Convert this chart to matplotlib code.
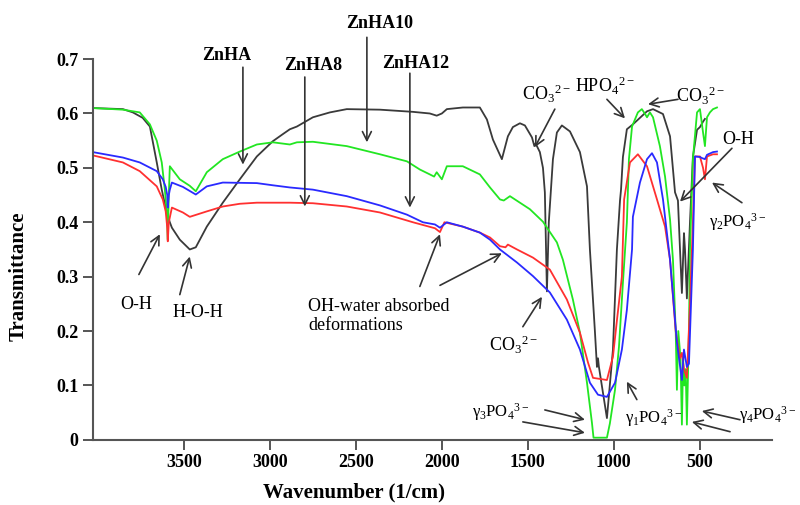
import matplotlib
matplotlib.use("Agg")
import matplotlib.pyplot as plt

plt.rcParams['font.family'] = ['Liberation Serif', 'DejaVu Serif']
plt.rcParams['mathtext.default'] = 'regular'

# spectra (wavenumber in 1/cm, transmittance)
wn_black = [4030, 3855, 3797, 3740, 3698, 3658, 3629, 3600, 3582, 3570, 3524, 3466, 3431, 3367, 3274, 3175,
            3076, 2983, 2925, 2884, 2843, 2750, 2651, 2553, 2360, 2168, 2070, 2030, 2000, 1971, 1878, 1779,
            1738, 1703, 1651, 1616, 1587, 1546, 1517, 1476, 1462, 1455, 1430, 1412, 1401, 1389, 1378, 1354,
            1331, 1302, 1255, 1197, 1156, 1139, 1110, 1098, 1092, 1087, 1040, 1005, 982, 964, 958, 947, 924,
            889, 807, 772, 714, 673, 644, 627, 615, 604, 592, 586, 575, 557, 540, 516, 499, 481, 470]
t_black = [0.610, 0.608, 0.602, 0.592, 0.576, 0.510, 0.460, 0.418, 0.400, 0.390, 0.368, 0.350, 0.354, 0.392,
           0.436, 0.479, 0.521, 0.549, 0.562, 0.571, 0.576, 0.593, 0.602, 0.608, 0.607, 0.603, 0.600, 0.596,
           0.600, 0.608, 0.611, 0.611, 0.589, 0.552, 0.516, 0.558, 0.575, 0.582, 0.578, 0.556, 0.540, 0.545,
           0.529, 0.500, 0.455, 0.273, 0.400, 0.516, 0.565, 0.578, 0.567, 0.529, 0.466, 0.350, 0.200, 0.134,
           0.150, 0.135, 0.040, 0.166, 0.350, 0.440, 0.460, 0.520, 0.571, 0.580, 0.604, 0.608, 0.599, 0.558,
           0.455, 0.440, 0.350, 0.270, 0.380, 0.350, 0.260, 0.400, 0.520, 0.570, 0.575, 0.585, 0.590]

wn_green = [4030, 3855, 3757, 3698, 3658, 3629, 3611, 3600, 3594, 3588, 3582, 3570, 3524, 3466, 3431, 3367,
            3274, 3175, 3076, 2983, 2884, 2843, 2750, 2553, 2360, 2203, 2128, 2070, 2045, 2030, 2000, 1971,
            1878, 1779, 1720, 1662, 1640, 1604, 1488, 1412, 1331, 1296, 1238, 1197, 1156, 1127, 1118, 1040,
            1023, 993, 970, 947, 924, 912, 894, 860, 837, 820, 807, 790, 772, 732, 702, 673, 656, 640, 633,
            625, 612, 604, 597, 590, 582, 575, 563, 557, 540, 516, 499, 481, 470, 458, 441, 423, 400]
t_green = [0.610, 0.607, 0.602, 0.580, 0.550, 0.510, 0.460, 0.420, 0.368, 0.450, 0.503, 0.498, 0.479, 0.467,
           0.457, 0.492, 0.516, 0.530, 0.543, 0.547, 0.543, 0.547, 0.548, 0.540, 0.525, 0.512, 0.497, 0.488,
           0.484, 0.492, 0.479, 0.503, 0.503, 0.488, 0.464, 0.442, 0.440, 0.448, 0.424, 0.401, 0.363, 0.331,
           0.258, 0.197, 0.105, 0.031, 0.004, 0.004, 0.030, 0.092, 0.171, 0.289, 0.400, 0.516, 0.576, 0.602,
           0.608, 0.600, 0.593, 0.602, 0.593, 0.540, 0.484, 0.405, 0.331, 0.200, 0.092, 0.200, 0.150, 0.028,
           0.150, 0.100, 0.130, 0.028, 0.200, 0.350, 0.516, 0.602, 0.608, 0.565, 0.540, 0.593, 0.602, 0.608,
           0.611]

wn_red = [4030, 3855, 3757, 3658, 3623, 3606, 3597, 3594, 3588, 3570, 3506, 3466, 3367, 3274, 3175, 3076,
          2884, 2750, 2553, 2360, 2168, 2040, 2011, 1985, 1878, 1779, 1720, 1662, 1630, 1616, 1563, 1470,
          1372, 1273, 1197, 1150, 1121, 1040, 1005, 980, 976, 953, 940, 906, 860, 807, 749, 702, 673, 640,
          633, 615, 604, 592, 575, 557, 540, 528, 499, 481, 470, 458, 423, 400]
t_red = [0.523, 0.510, 0.494, 0.466, 0.442, 0.420, 0.390, 0.365, 0.400, 0.427, 0.418, 0.410, 0.420, 0.429,
         0.434, 0.436, 0.436, 0.435, 0.429, 0.418, 0.400, 0.389, 0.382, 0.400, 0.392, 0.381, 0.372, 0.356,
         0.354, 0.359, 0.350, 0.335, 0.313, 0.258, 0.197, 0.142, 0.114, 0.110, 0.153, 0.225, 0.236, 0.300,
         0.442, 0.510, 0.525, 0.503, 0.442, 0.392, 0.331, 0.200, 0.184, 0.150, 0.160, 0.130, 0.114, 0.250,
         0.400, 0.521, 0.521, 0.500, 0.479, 0.521, 0.525, 0.525]

wn_blue = [4030, 3855, 3757, 3658, 3623, 3606, 3597, 3594, 3588, 3582, 3570, 3506, 3431, 3367, 3274, 3076,
           2983, 2884, 2750, 2553, 2360, 2203, 2110, 2040, 2011, 1971, 1878, 1779, 1720, 1662, 1563, 1470,
           1372, 1273, 1197, 1139, 1092, 1040, 993, 953, 924, 894, 889, 848, 807, 778, 749, 714, 673, 633,
           604, 592, 575, 563, 540, 528, 499, 487, 470, 458, 423, 400]
t_blue = [0.529, 0.519, 0.510, 0.494, 0.479, 0.465, 0.450, 0.427, 0.450, 0.460, 0.473, 0.465, 0.451, 0.466,
          0.473, 0.472, 0.468, 0.464, 0.460, 0.448, 0.431, 0.414, 0.400, 0.396, 0.390, 0.400, 0.392, 0.381,
          0.368, 0.350, 0.326, 0.301, 0.271, 0.221, 0.166, 0.105, 0.083, 0.079, 0.105, 0.166, 0.239, 0.350,
          0.410, 0.473, 0.516, 0.527, 0.510, 0.442, 0.331, 0.179, 0.110, 0.166, 0.134, 0.140, 0.350, 0.521,
          0.520, 0.518, 0.516, 0.524, 0.529, 0.530]

x_ticks = [3500, 3000, 2500, 2000, 1500, 1000, 500]
y_ticks = [0, 0.1, 0.2, 0.3, 0.4, 0.5, 0.6, 0.7]
y_tick_labels = ['0', '0.1', '0.2', '0.3', '0.4', '0.5', '0.6', '0.7']

fig = plt.figure(figsize=(8, 5.05), dpi=100)
ax = fig.add_axes([0.116, 0.129, 0.849, 0.754])

ax.plot(wn_black, t_black, color='#3a3a3a', lw=1.3)
ax.plot(wn_green, t_green, color='#22e622', lw=1.3)
ax.plot(wn_red, t_red, color='#ff3030', lw=1.3)
ax.plot(wn_blue, t_blue, color='#2a2aff', lw=1.3)

ax.set_xlim(4030, 80)
ax.set_ylim(0, 0.7)
ax.set_xticks(x_ticks)
ax.set_yticks(y_ticks)
ax.set_yticklabels(y_tick_labels)

for side in ['top', 'right']:
    ax.spines[side].set_visible(False)
for side in ['left', 'bottom']:
    ax.spines[side].set_linewidth(1.5)
    ax.spines[side].set_color('#555555')
ax.tick_params(direction='out', length=7, width=1.4, color='#555555', labelsize=13)
for lab in ax.get_xticklabels() + ax.get_yticklabels():
    lab.set_fontweight('bold')

ax.set_xlabel('Wavenumber (1/cm)', fontsize=15, fontweight='bold')
ax.set_ylabel('Transmittance', fontsize=15, fontweight='bold')
ax.xaxis.set_label_coords(0.385, -0.112)
ax.yaxis.set_label_coords(-0.094, 0.43)

arrow_style = dict(arrowstyle='->', color='#333333', lw=1.2, mutation_scale=16, shrinkA=0, shrinkB=0)


def arrow(tail, tip):
    ax.annotate('', xy=tip, xytext=tail, arrowprops=arrow_style, annotation_clip=False)


def label(x, y, s, bold=False, ha='center', size=13):
    ax.text(x, y, s, ha=ha, va='center', fontsize=size, fontweight='bold' if bold else 'normal',
            clip_on=False)


# sample names
label(3250, 0.707, 'ZnHA', bold=True)
arrow((3157, 0.685), (3157, 0.506))
label(2750, 0.688, 'ZnHA8', bold=True)
arrow((2797, 0.667), (2797, 0.429))
label(2360, 0.766, 'ZnHA10', bold=True)
arrow((2436, 0.740), (2436, 0.547))
label(2150, 0.692, 'ZnHA12', bold=True)
arrow((2186, 0.674), (2186, 0.427))

# band assignments
label(3780, 0.249, 'O-H')
arrow((3762, 0.304), (3640, 0.378))
label(3419, 0.234, 'H-O-H')
arrow((3524, 0.267), (3466, 0.337))
label(2779, 0.228, 'OH-water absorbed\ndeformations', ha='left')
arrow((2128, 0.282), (2011, 0.378))
arrow((2011, 0.284), (1651, 0.343))
label(1581, 0.175, 'CO$_3$$^{2-}$')
arrow((1529, 0.208), (1418, 0.263))
label(1389, 0.635, 'CO$_3$$^{2-}$')
arrow((1343, 0.608), (1459, 0.538))
label(1052, 0.650, 'HPO$_4$$^{2-}$')
arrow((1040, 0.626), (935, 0.591))
label(493, 0.632, 'CO$_3$$^{2-}$')
arrow((627, 0.626), (801, 0.617))
label(278, 0.552, 'O-H')
arrow((313, 0.536), (615, 0.438))
label(278, 0.400, 'γ$_2$PO$_4$$^{3-}$', size=12)
arrow((255, 0.436), (429, 0.473))
label(1657, 0.052, 'γ$_3$PO$_4$$^{3-}$', size=12)
arrow((1401, 0.055), (1168, 0.037))
arrow((1529, 0.033), (1168, 0.013))
label(767, 0.040, 'γ$_1$PO$_4$$^{3-}$', size=12)
arrow((866, 0.074), (924, 0.107))
label(-60, 0.046, 'γ$_4$PO$_4$$^{3-}$', ha='right', size=12)
arrow((266, 0.037), (488, 0.053))
arrow((324, 0.015), (546, 0.033))

fig.savefig('out.png', dpi=100)
